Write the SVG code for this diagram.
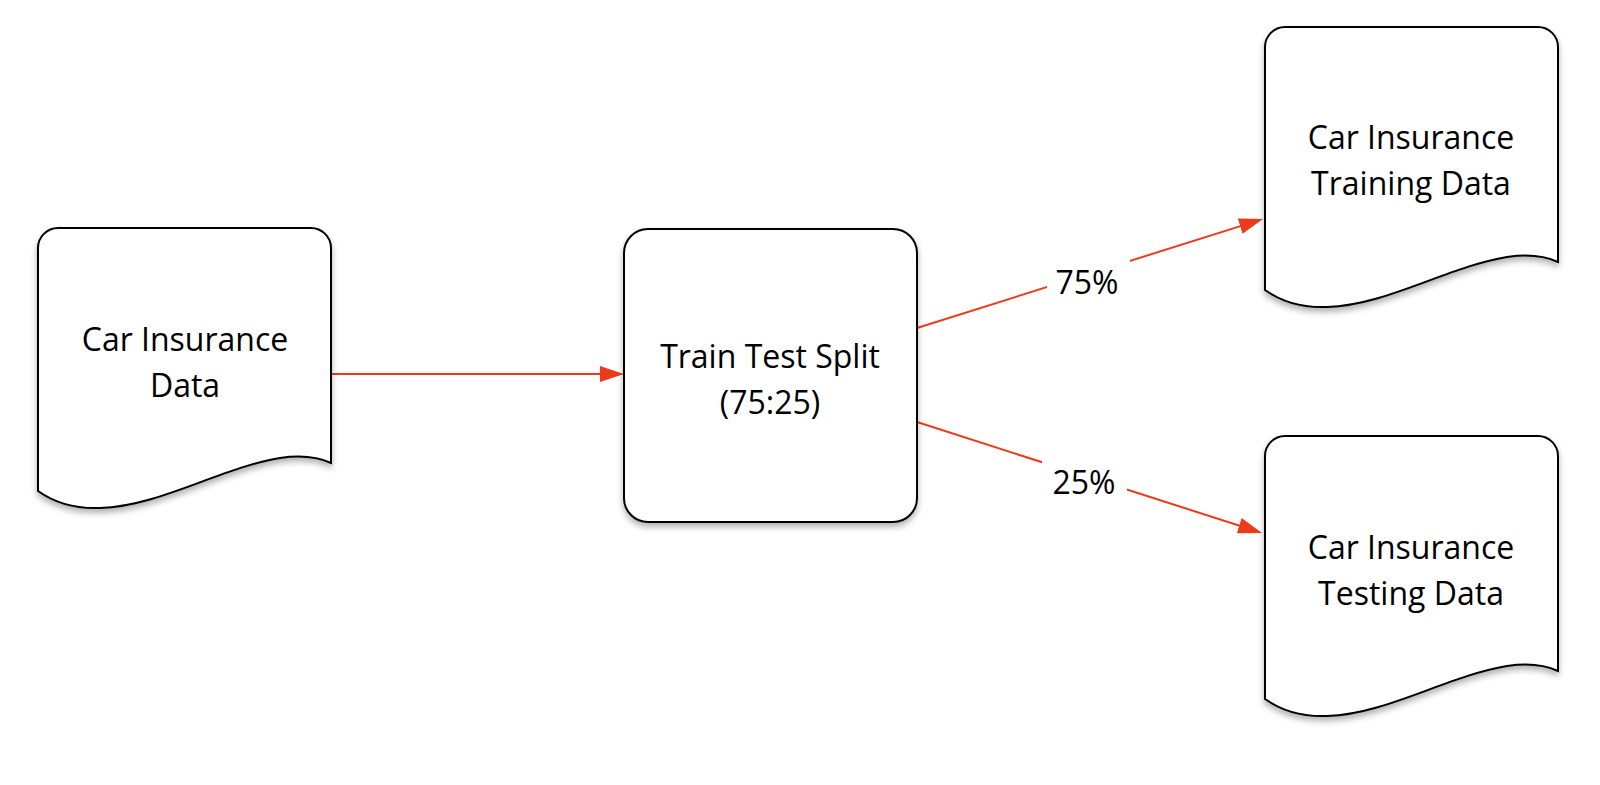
<svg xmlns="http://www.w3.org/2000/svg" width="1600" height="785" viewBox="0 0 1600 785">
  <style>
    .shape { fill: #ffffff; stroke: #000000; stroke-width: 2; filter: url(#shadow); }
    .label { font-family: "Open Sans", "Noto Sans", "DejaVu Sans", sans-serif; font-size: 32px; fill: #000000; text-anchor: middle; }
    .conn { fill: none; stroke: #ee3a1c; stroke-width: 2; marker-end: url(#arrow); }
    .bg { fill: #ffffff; }
  </style>
  <defs>
    <filter id="shadow" x="-10%" y="-10%" width="120%" height="125%">
      <feDropShadow dx="0" dy="4" stdDeviation="3" flood-color="#000000" flood-opacity="0.3"/>
    </filter>
    <marker id="arrow" markerUnits="userSpaceOnUse" markerWidth="24" markerHeight="16" refX="12" refY="8" orient="auto">
      <path d="M0,0 L24,8 L0,16 Z" fill="#ee3a1c"/>
    </marker>
  </defs>
  <rect x="0" y="0" width="1600" height="785" fill="#ffffff"/>

  <g id="connectors">
    <line class="conn" x1="331" y1="374" x2="612" y2="374"/>
    <line class="conn" x1="917" y1="328" x2="1251.6" y2="222.6"/>
    <line class="conn" x1="917" y1="422" x2="1250.6" y2="529.3"/>
    <rect class="bg" x="1047" y="256" width="83" height="46"/>
    <text class="label" x="1087" y="294">75%</text>
    <rect class="bg" x="1042" y="458" width="85" height="44"/>
    <text class="label" x="1084" y="494">25%</text>
  </g>

  <g id="node-data">
    <path class="shape" transform="translate(38,228)" d="M0,20 A20,20 0 0 1 20,0 L273,0 A20,20 0 0 1 293,20 L293,235 C280,229 262,227 242,230 C182,240 122,278 62,280 C37,281 17,275 0,263 Z"/>
    <text class="label" x="185" y="351">Car Insurance</text>
    <text class="label" x="185" y="397">Data</text>
  </g>

  <g id="node-split">
    <rect class="shape" x="624" y="229" width="293" height="293" rx="24" ry="24"/>
    <text class="label" x="770" y="368">Train Test Split</text>
    <text class="label" x="770" y="414">(75:25)</text>
  </g>

  <g id="node-training">
    <path class="shape" transform="translate(1265,27)" d="M0,20 A20,20 0 0 1 20,0 L273,0 A20,20 0 0 1 293,20 L293,235 C280,229 262,227 242,230 C182,240 122,278 62,280 C37,281 17,275 0,263 Z"/>
    <text class="label" x="1411" y="149">Car Insurance</text>
    <text class="label" x="1411" y="195">Training Data</text>
  </g>

  <g id="node-testing">
    <path class="shape" transform="translate(1265,436)" d="M0,20 A20,20 0 0 1 20,0 L273,0 A20,20 0 0 1 293,20 L293,235 C280,229 262,227 242,230 C182,240 122,278 62,280 C37,281 17,275 0,263 Z"/>
    <text class="label" x="1411" y="559">Car Insurance</text>
    <text class="label" x="1411" y="605">Testing Data</text>
  </g>
</svg>
